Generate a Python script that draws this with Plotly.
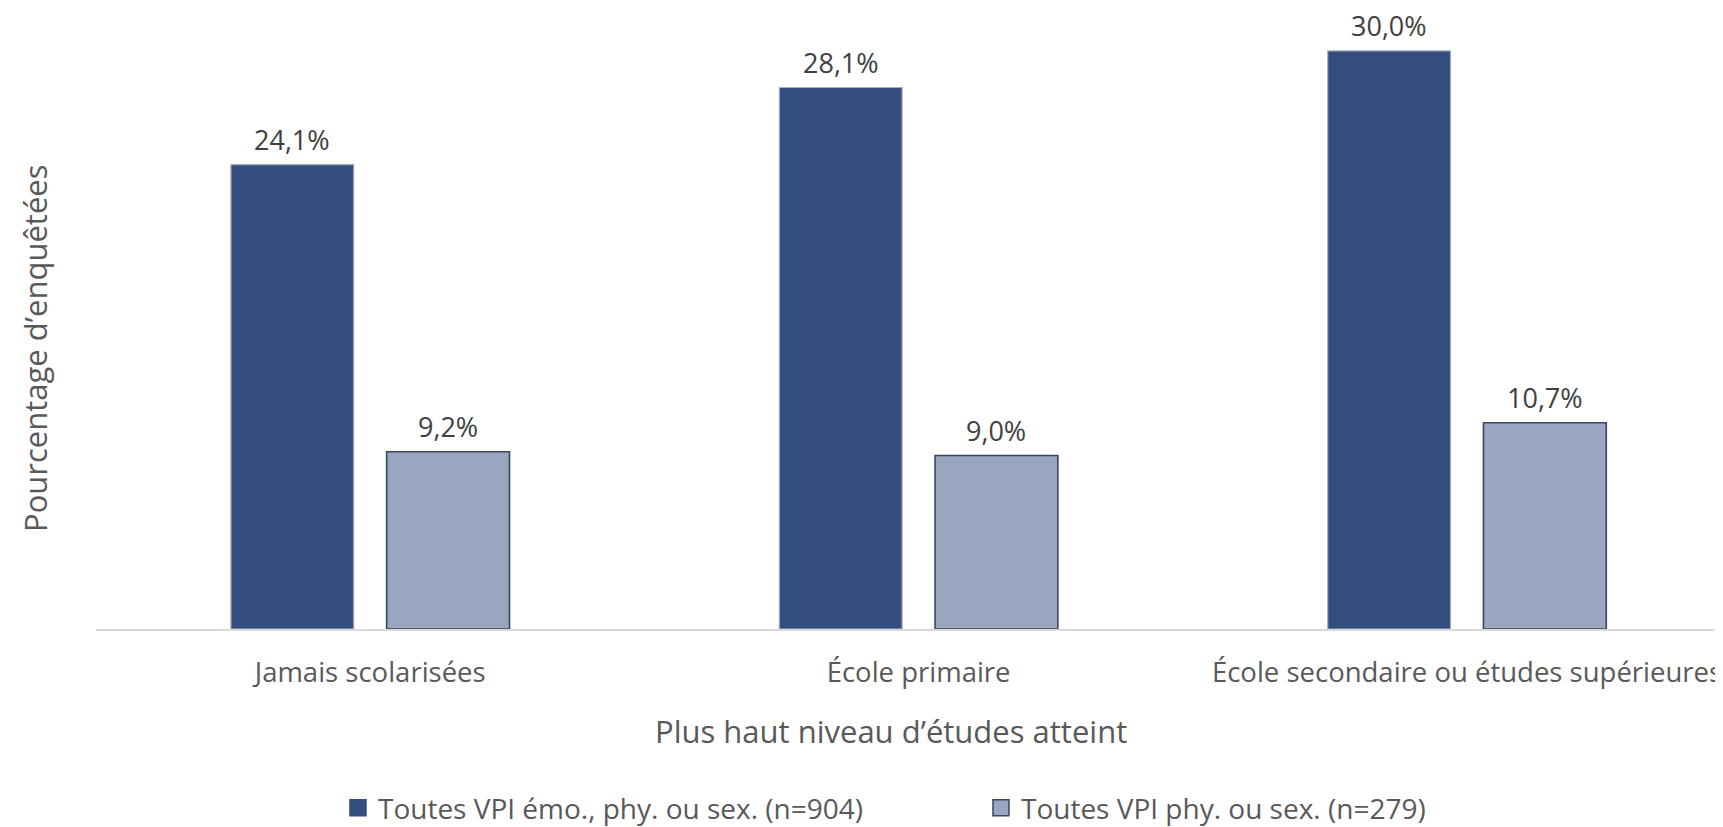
import plotly.graph_objects as go

FONT = "Open Sans"

categories = ["Jamais scolarisées", "École primaire", "École secondaire ou études supérieures"]
all_ipv = [24.1, 28.1, 30.0]
phys_sex_ipv = [9.2, 9.0, 10.7]
series_names = ["Toutes VPI émo., phy. ou sex. (n=904)", "Toutes VPI phy. ou sex. (n=279)"]

W, H = 1723, 827
L, B = 88, 206  # page has an 8px body margin, so positions are shifted by -8

BAR_W = 0.224
OFFSETS = [-0.254, 0.030]
COLORS = ["#334E7E", "#9AA6BF"]
EDGES = [("#A9AFBC", 1.2), ("#3B4760", 1.6)]


def pct(v):
    return f"{v:.1f}".replace(".", ",") + "%"


fig = go.Figure()
annotations = []
for vals, name, off, col, (ec, ew) in zip([all_ipv, phys_sex_ipv], series_names, OFFSETS, COLORS, EDGES):
    fig.add_trace(
        go.Bar(
            x=list(range(len(categories))),
            y=vals,
            name=name,
            width=BAR_W,
            offset=off,
            marker=dict(color=col, line=dict(color=ec, width=ew)),
            showlegend=False,
        )
    )
    # legend-only entry with a bigger square swatch
    fig.add_trace(
        go.Scatter(
            x=[None], y=[None], mode="markers", name=name,
            marker=dict(symbol="square", size=16, color=col,
                        line=dict(color="#3B4760" if col == COLORS[1] else col, width=1.5)),
        )
    )
    for i, v in enumerate(vals):
        annotations.append(
            dict(
                x=i + off + BAR_W / 2, y=v, xref="x", yref="y",
                text=pct(v), showarrow=False, yanchor="middle", yshift=25,
                font=dict(family=FONT, size=27, color="#404040"),
            )
        )

pw = W - L
ph = H - B


def paper_x(px):
    return (px - L) / pw


def paper_y(py):
    return (H - B - py) / ph


annotations += [
    dict(
        text="Plus haut niveau d’études atteint",
        x=paper_x(883), y=paper_y(723), xanchor="center", yanchor="middle",
        xref="paper", yref="paper", showarrow=False,
        font=dict(family=FONT, size=31, color="#595959"),
    ),
    dict(
        text="Pourcentage d’enquêtées",
        x=paper_x(27), y=paper_y(341), xanchor="center", yanchor="middle",
        xref="paper", yref="paper", textangle=-90, showarrow=False,
        font=dict(family=FONT, size=31, color="#595959"),
    ),
]

fig.update_layout(
    width=W,
    height=H,
    margin=dict(l=L, r=0, t=0, b=B),
    plot_bgcolor="white",
    paper_bgcolor="white",
    font=dict(family=FONT, size=28, color="#595959"),
    showlegend=True,
    legend=dict(
        orientation="h",
        x=0.148,
        xanchor="left",
        y=(H - 800) / H,
        yanchor="middle",
        yref="container",
        entrywidth=598,
        itemwidth=30,
        font=dict(family=FONT, size=28, color="#595959"),
    ),
    xaxis=dict(
        tickmode="array",
        tickvals=list(range(len(categories))),
        ticktext=categories,
        range=[-0.5, -0.5 + pw / 548.4],
        showline=True,
        linecolor="#D9D9D9",
        linewidth=2,
        showgrid=False,
        zeroline=False,
        ticks="",
        ticklabelstandoff=18,
        tickfont=dict(family=FONT, size=27.5, color="#595959"),
    ),
    yaxis=dict(
        range=[0, (H - B) / 19.27],
        showgrid=False,
        zeroline=False,
        showline=False,
        showticklabels=False,
        ticks="",
    ),
    annotations=annotations,
)

fig.write_html("out.html")
